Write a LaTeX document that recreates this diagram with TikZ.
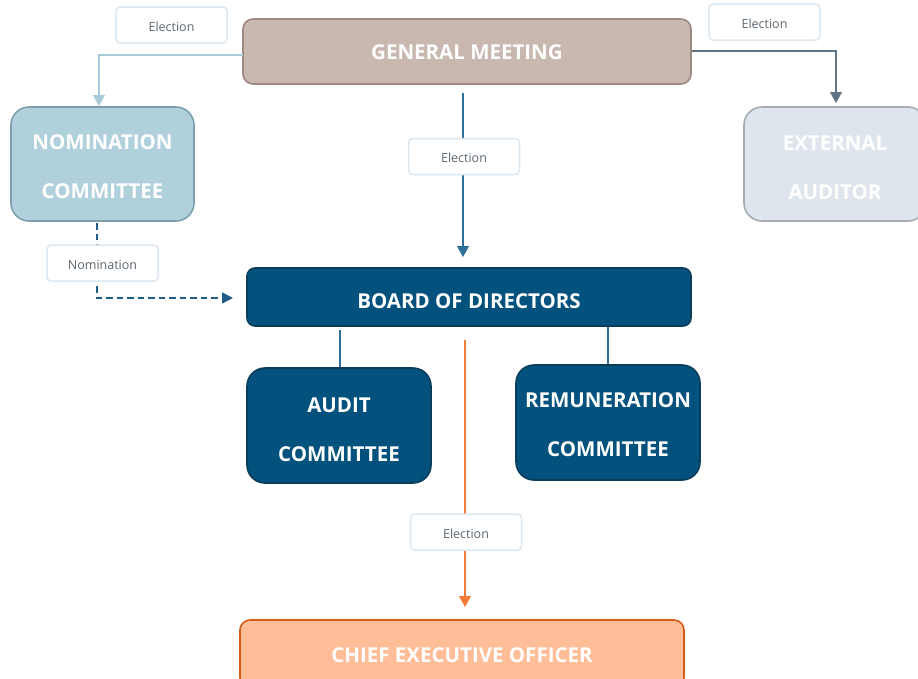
\documentclass[tikz,border=0pt]{standalone}
\usepackage{fontspec}
\setmainfont{Open Sans}
\usetikzlibrary{arrows.meta}
\definecolor{gmfill}{HTML}{C9B8AF}
\definecolor{gmdraw}{HTML}{9C8A82}
\definecolor{nomfill}{HTML}{B0D0DC}
\definecolor{nomdraw}{HTML}{7E9FAA}
\definecolor{extfill}{HTML}{DEE5ED}
\definecolor{extdraw}{HTML}{A3ABB3}
\definecolor{bdfill}{HTML}{03527D}
\definecolor{bddraw}{HTML}{0A3D5C}
\definecolor{ceofill}{HTML}{FFBE98}
\definecolor{ceodraw}{HTML}{D45D1A}
\definecolor{lbldraw}{HTML}{DCE7F0}
\definecolor{lbltext}{HTML}{5C6670}
\definecolor{cnom}{HTML}{A8CCDA}
\definecolor{cext}{HTML}{5F7585}
\definecolor{cbd}{HTML}{2E6F9A}
\definecolor{cdash}{HTML}{1F5C88}
\definecolor{cceo}{HTML}{F47B3A}
\tikzset{
  box/.style={draw, line width=1.6pt, inner sep=0pt},
  boxtxt/.style={inner sep=0pt, text=white,
    font=\fontsize{20.5}{49}\selectfont\bfseries, align=center},
  lbl/.style={draw=lbldraw, fill=white, line width=1.5pt, rounded corners=4pt,
    minimum width=111pt, minimum height=36pt, inner sep=0pt},
  lbltxt/.style={inner sep=0pt, text=lbltext, font=\fontsize{12.5}{15}\selectfont},
  conn/.style={line width=1.1pt, -{Triangle[length=11pt,width=12pt]}},
}
\begin{document}
\begin{tikzpicture}[x=1pt,y=-1pt]
\useasboundingbox (0,0) rectangle (918,678);
\clip (0,0) rectangle (918,678);
% boxes
\node[box, fill=gmfill, draw=gmdraw, rounded corners=10pt, minimum width=448pt, minimum height=65pt] (gm) at (467,51.5) {};
\node[box, fill=nomfill, draw=nomdraw, rounded corners=18pt, minimum width=183pt, minimum height=114pt] (nom) at (102.5,164) {};
\node[box, fill=extfill, draw=extdraw, rounded corners=18pt, minimum width=182pt, minimum height=114pt] (ext) at (835,164) {};
\node[box, fill=bdfill, draw=bddraw, rounded corners=8pt, minimum width=444pt, minimum height=58pt] (bd) at (469,297) {};
\node[box, fill=bdfill, draw=bddraw, rounded corners=18pt, minimum width=184pt, minimum height=115pt] (aud) at (339,425.5) {};
\node[box, fill=bdfill, draw=bddraw, rounded corners=18pt, minimum width=184pt, minimum height=115pt] (rem) at (608,422.5) {};
\node[box, fill=ceofill, draw=ceodraw, rounded corners=10pt, minimum width=444pt, minimum height=68pt] (ceo) at (462,654) {};
% box texts
\node[boxtxt] (gmt) at ([yshift=-1pt]gm.center) {GENERAL MEETING};
\node[boxtxt] (nomt) at ([yshift=-2.5pt]nom.center) {NOMINATION\\COMMITTEE};
\node[boxtxt] (extt) at ([yshift=-3.5pt]ext.center) {EXTERNAL\\AUDITOR};
\node[boxtxt] (bdt) at ([yshift=-4pt]bd.center) {BOARD OF DIRECTORS};
\node[boxtxt] (audt) at ([yshift=-4pt]aud.center) {AUDIT\\COMMITTEE};
\node[boxtxt] (remt) at ([yshift=-2pt]rem.center) {REMUNERATION\\COMMITTEE};
\node[boxtxt] (ceot) at ([yshift=-1pt]ceo.center) {CHIEF EXECUTIVE OFFICER};
% connector anchors
\coordinate (gmL) at (243,55);
\coordinate (gmR) at (692,51);
\coordinate (gmB) at (463,93);
\coordinate (bdTip) at (463,257);
\coordinate (nomB) at (97,223);
\coordinate (bdLtip) at (233,298);
\coordinate (bdA) at (340,330);
\coordinate (bdR) at (608,327);
\coordinate (bdC) at (465,340);
\coordinate (ceoTip) at (465,607);
\coordinate (nomTip) at (99,106);
\coordinate (extTip) at (836,103);
% connectors
\draw[conn, draw=cnom] (gmL) -| (nomTip);
\draw[conn, draw=cext] (gmR) -| (extTip);
\draw[conn, draw=cbd] (gmB) -- (bdTip);
\draw[line width=1.6pt, draw=cdash, dash pattern=on 6.5pt off 4pt, -{Triangle[length=11pt,width=11pt]}] (nomB) |- (bdLtip);
\draw[line width=1.1pt, draw=cbd] (bdA) -- (aud.north -| bdA);
\draw[line width=1.1pt, draw=cbd] (bdR) -- (rem.north -| bdR);
\draw[conn, draw=cceo] (bdC) -- (ceoTip);
% labels
\node[lbl] (l1) at (171.5,25) {};
\node[lbl] (l2) at (764.5,22) {};
\node[lbl] (l3) at (464,156.5) {};
\node[lbl] (l4) at (102.5,263) {};
\node[lbl] (l5) at (466,532) {};
\node[lbltxt] (l1t) at ([yshift=-1.5pt]l1.center) {Election};
\node[lbltxt] (l2t) at ([yshift=-1.5pt]l2.center) {Election};
\node[lbltxt] (l3t) at ([yshift=-1.5pt]l3.center) {Election};
\node[lbltxt] (l4t) at ([yshift=-1.5pt]l4.center) {Nomination};
\node[lbltxt] (l5t) at ([yshift=-1.5pt]l5.center) {Election};
\end{tikzpicture}
\end{document}
